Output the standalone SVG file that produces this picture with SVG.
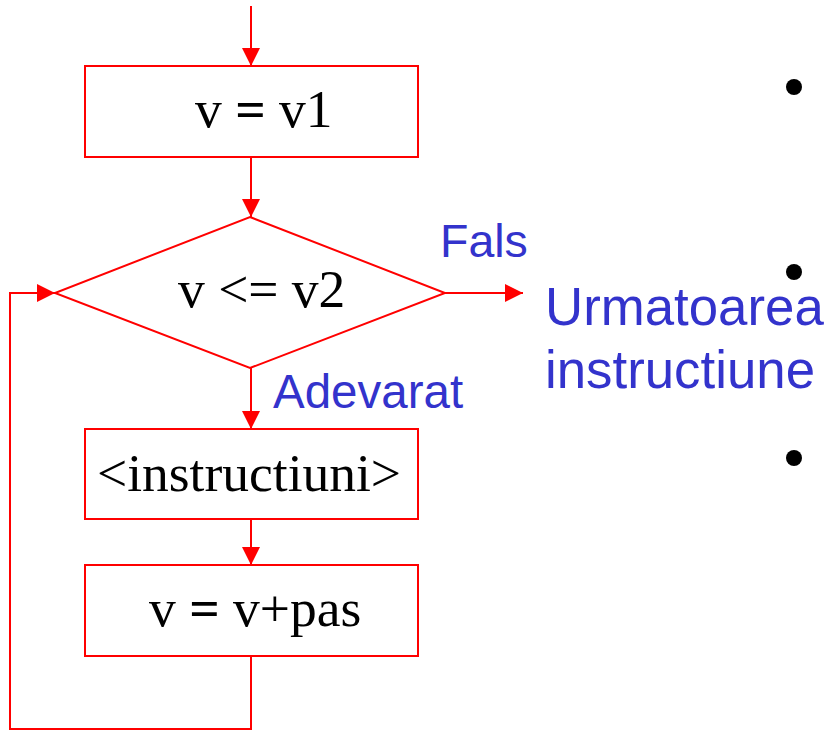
<svg xmlns="http://www.w3.org/2000/svg" width="826" height="731" viewBox="0 0 826 731">
<defs>
<style>
.shape{fill:#ffffff;stroke:#ff0000;stroke-width:2}
.conn{fill:none;stroke:#ff0000;stroke-width:2}
.t{font-family:"Liberation Serif","Times New Roman",serif;font-size:53.5px;fill:#000000}
.lbl{font-family:"Liberation Sans",Arial,sans-serif;fill:#3333cc}
</style>
<marker id="ah" markerUnits="userSpaceOnUse" markerWidth="18" markerHeight="18" viewBox="0 0 16 16" refX="16" refY="8" orient="auto">
<path d="M0,0 L16,8 L0,16 Z" fill="#ff0000"/>
</marker>
</defs>
<g id="connectors">
<line class="conn" x1="251" y1="6" x2="251" y2="66" marker-end="url(#ah)"/>
<line class="conn" x1="251" y1="157" x2="251" y2="217" marker-end="url(#ah)"/>
<line class="conn" x1="445" y1="293" x2="523" y2="293" marker-end="url(#ah)"/>
<line class="conn" x1="251" y1="368" x2="251" y2="429" marker-end="url(#ah)"/>
<line class="conn" x1="251" y1="519" x2="251" y2="565" marker-end="url(#ah)"/>
<polyline class="conn" points="251,656 251,729 10,729 10,293 55,293" marker-end="url(#ah)"/>
</g>
<g id="node-init">
<rect class="shape" x="85" y="66" width="333" height="91"/>
<text class="t" x="195" y="127">v <tspan font-weight="bold">=</tspan> v1</text>
</g>
<g id="node-cond">
<polygon class="shape" points="250,217 445,293 250,368 55,293"/>
<text class="t" x="178" y="307">v &lt;= v2</text>
</g>
<g id="node-body">
<rect class="shape" x="85" y="429" width="333" height="90"/>
<text class="t" x="97" y="491">&lt;instructiuni&gt;</text>
</g>
<g id="node-step">
<rect class="shape" x="85" y="565" width="333" height="91"/>
<text class="t" x="149" y="626">v <tspan font-weight="bold">=</tspan> v+pas</text>
</g>
<g id="labels">
<text class="lbl" x="440" y="257" font-size="46.5">Fals</text>
<text class="lbl" x="273" y="408" font-size="47.5">Adevarat</text>
</g>
<g id="node-next">
<text class="lbl" x="545" y="325" font-size="52.8">Urmatoarea</text>
<text class="lbl" x="545" y="388" font-size="52.8">instructiune</text>
</g>
<g id="bullets" fill="#000000">
<circle cx="794" cy="87" r="8"/>
<circle cx="794" cy="272" r="8"/>
<circle cx="794" cy="458" r="8"/>
</g>
</svg>
